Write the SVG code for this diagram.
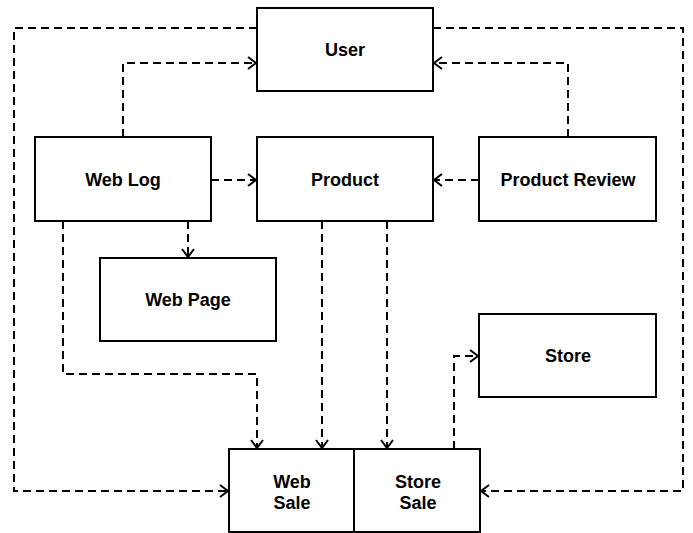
<svg xmlns="http://www.w3.org/2000/svg" width="693" height="533" viewBox="0 0 693 533">
<style>
.box{fill:#fff;stroke:#000;stroke-width:2}
.t{font-family:"Liberation Sans",Arial,sans-serif;font-weight:bold;font-size:18px;text-anchor:middle;fill:#000}
.c{fill:none;stroke:#000;stroke-width:2;stroke-dasharray:8,5}
</style>
<defs>
<marker id="a" markerWidth="12" markerHeight="14" refX="10" refY="7" orient="auto" markerUnits="userSpaceOnUse">
<path d="M2,1 L10,7 L2,13" fill="none" stroke="#000" stroke-width="2"/>
</marker>
</defs>
<rect width="693" height="533" fill="#fff"/>
<g id="connectors">
<path class="c" d="M257,28 H14 V491 H228" marker-end="url(#a)"/>
<path class="c" d="M433,28 H683 V491 H481" marker-end="url(#a)"/>
<path class="c" d="M123,137 V63 H256" marker-end="url(#a)"/>
<path class="c" d="M568,137 V63 H434" marker-end="url(#a)"/>
<path class="c" d="M211,180 H256" marker-end="url(#a)"/>
<path class="c" d="M479,180 H434" marker-end="url(#a)"/>
<path class="c" d="M188,221 V257" marker-end="url(#a)"/>
<path class="c" d="M63,221 V374 H257 V448" marker-end="url(#a)"/>
<path class="c" d="M322,221 V448" marker-end="url(#a)"/>
<path class="c" d="M387,221 V448" marker-end="url(#a)"/>
<path class="c" d="M454,449 V356 H478" marker-end="url(#a)"/>
</g>
<g id="user"><rect class="box" x="257" y="8" width="176" height="83"/><text class="t" x="345" y="56">User</text></g>
<g id="weblog"><rect class="box" x="35" y="137" width="176" height="84"/><text class="t" x="123" y="186">Web Log</text></g>
<g id="product"><rect class="box" x="257" y="137" width="176" height="84"/><text class="t" x="345" y="186">Product</text></g>
<g id="productreview"><rect class="box" x="479" y="137" width="177" height="84"/><text class="t" x="568" y="186">Product Review</text></g>
<g id="webpage"><rect class="box" x="100" y="258" width="176" height="83"/><text class="t" x="188" y="306">Web Page</text></g>
<g id="store"><rect class="box" x="479" y="314" width="177" height="83"/><text class="t" x="568" y="362">Store</text></g>
<g id="websale"><rect class="box" x="229" y="449" width="125" height="83"/><text class="t" x="292" y="488">Web</text><text class="t" x="292" y="509">Sale</text></g>
<g id="storesale"><rect class="box" x="354" y="449" width="126" height="83"/><text class="t" x="418" y="488">Store</text><text class="t" x="418" y="509">Sale</text></g>
</svg>
